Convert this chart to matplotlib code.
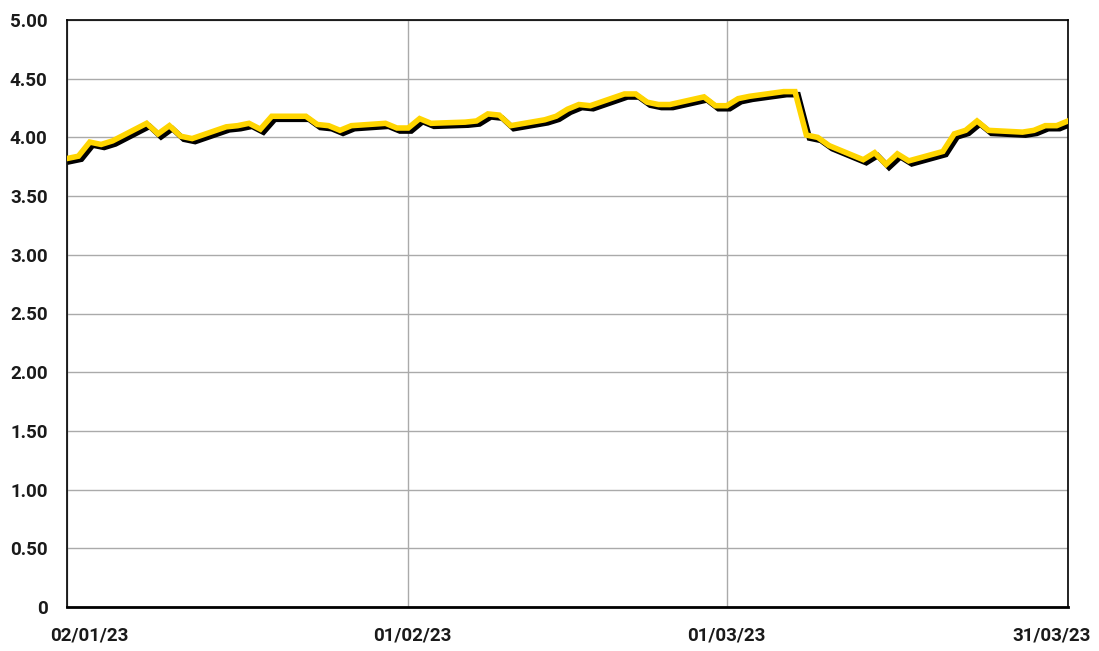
import matplotlib
matplotlib.use("Agg")
import matplotlib.pyplot as plt
import matplotlib.dates as mdates
import matplotlib.patheffects as pe
import matplotlib.transforms as mtransforms
import pandas as pd
import numpy as np

dates = [
    "2023-01-02", "2023-01-03", "2023-01-04", "2023-01-05", "2023-01-06",
    "2023-01-09", "2023-01-10", "2023-01-11", "2023-01-12", "2023-01-13",
    "2023-01-16", "2023-01-17", "2023-01-18", "2023-01-19", "2023-01-20",
    "2023-01-23", "2023-01-24", "2023-01-25", "2023-01-26", "2023-01-27",
    "2023-01-30", "2023-01-31", "2023-02-01", "2023-02-02", "2023-02-03",
    "2023-02-06", "2023-02-07", "2023-02-08", "2023-02-09", "2023-02-10",
    "2023-02-13", "2023-02-14", "2023-02-15", "2023-02-16", "2023-02-17",
    "2023-02-20", "2023-02-21", "2023-02-22", "2023-02-23", "2023-02-24",
    "2023-02-27", "2023-02-28", "2023-03-01", "2023-03-02", "2023-03-03",
    "2023-03-06", "2023-03-07", "2023-03-08", "2023-03-09", "2023-03-10",
    "2023-03-13", "2023-03-14", "2023-03-15", "2023-03-16", "2023-03-17",
    "2023-03-20", "2023-03-21", "2023-03-22", "2023-03-23", "2023-03-24",
    "2023-03-27", "2023-03-28", "2023-03-29", "2023-03-30", "2023-03-31",
]
values = [
    3.82, 3.84, 3.96, 3.94, 3.97,
    4.12, 4.03, 4.10, 4.01, 3.99,
    4.09, 4.10, 4.12, 4.07, 4.18,
    4.18, 4.11, 4.10, 4.06, 4.10,
    4.12, 4.08, 4.08, 4.16, 4.12,
    4.13, 4.14, 4.20, 4.19, 4.10,
    4.15, 4.18, 4.24, 4.28, 4.27,
    4.37, 4.37, 4.30, 4.28, 4.28,
    4.345, 4.27, 4.27, 4.33, 4.35,
    4.39, 4.39, 4.02, 4.00, 3.93,
    3.81, 3.87, 3.77, 3.86, 3.80,
    3.88, 4.03, 4.06, 4.14, 4.06,
    4.045, 4.06, 4.10, 4.10, 4.14,
]
tick_dates = ["2023-01-02", "2023-02-01", "2023-03-01", "2023-03-31"]
tick_labels = ["02/01/23", "01/02/23", "01/03/23", "31/03/23"]
y_ticks = [0, 0.5, 1.0, 1.5, 2.0, 2.5, 3.0, 3.5, 4.0, 4.5, 5.0]

x = pd.to_datetime(dates)
xt = pd.to_datetime(tick_dates)

plt.rcParams['font.family'] = ['Roboto', 'DejaVu Sans']

fig = plt.figure(figsize=(10.99, 6.51), dpi=100)
ax = fig.add_axes([67/1099, 44/651, (1068-67)/1099, (607-20)/651])

ax.plot(x, values, color='#FFD500', lw=4.0, solid_joinstyle='miter', zorder=3,
        path_effects=[pe.SimpleLineShadow(offset=(2.2, -2.2), shadow_color='black', alpha=1.0),
                      pe.Normal()])

ax.set_xlim(xt[0], xt[-1])
ax.set_ylim(0, 5)
ax.set_yticks(y_ticks)
ax.set_yticklabels(["0" if v == 0 else f"{v:.2f}" for v in y_ticks])
ax.set_xticks(xt)
ax.set_xticklabels(tick_labels)

ax.grid(True, color='#aaaaaa', lw=1.0, zorder=0)
ax.set_axisbelow(True)
for s in ax.spines.values():
    s.set_color('black')
    s.set_linewidth(1.2)
ax.spines['bottom'].set_linewidth(2.0)

ax.tick_params(axis='both', length=0, labelsize=13.5)
ax.tick_params(axis='y', pad=14)
ax.tick_params(axis='x', pad=14)
for lab in ax.get_yticklabels() + ax.get_xticklabels():
    lab.set_fontweight('bold')
    lab.set_color('#1a1a1a')

shifts = [22, 4, 0, -16]
for lab, dx in zip(ax.get_xticklabels(), shifts):
    lab.set_transform(lab.get_transform() + mtransforms.ScaledTranslation(dx/100, 0, fig.dpi_scale_trans))

fig.savefig("out.png", dpi=100)
